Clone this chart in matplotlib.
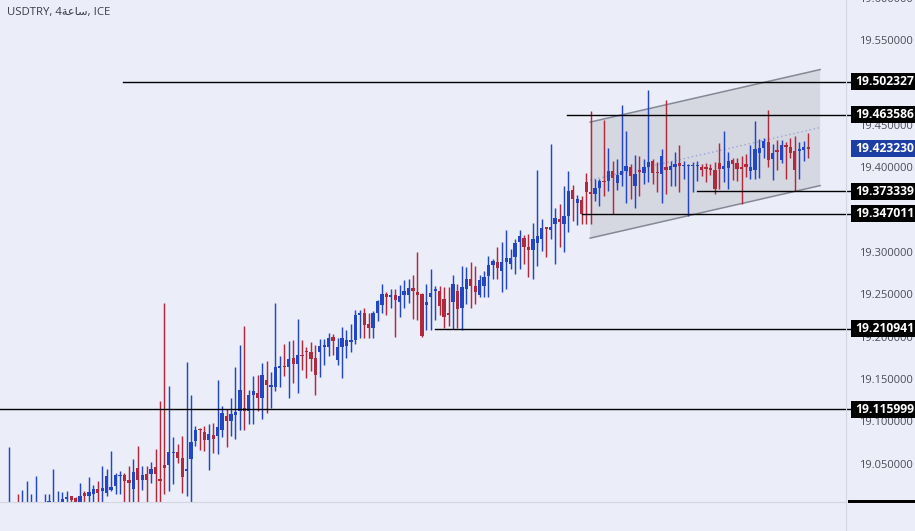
import matplotlib
matplotlib.use("Agg")
import matplotlib.pyplot as plt
import matplotlib.transforms as mtransforms
from matplotlib.patches import Rectangle, Polygon

# USDTRY 4h candles (oldest first)
opens = [
    18.985, 18.990, 19.000, 18.985, 18.990, 18.990, 18.990, 18.995, 18.985, 19.003,
    18.990, 19.000, 19.004, 19.010, 19.013, 19.011, 19.004, 19.017, 19.013, 19.016,
    19.022, 19.020, 19.017, 19.021, 19.025, 19.037, 19.038, 19.033, 19.022, 19.047,
    19.032, 19.039, 19.039, 19.048, 19.034, 19.050, 19.050, 19.064, 19.066, 19.058,
    19.043, 19.057, 19.078, 19.092, 19.089, 19.080, 19.086, 19.084, 19.092, 19.108,
    19.102, 19.109, 19.114, 19.118, 19.114, 19.133, 19.135, 19.129, 19.150, 19.142,
    19.142, 19.165, 19.167, 19.166, 19.177, 19.169, 19.180, 19.185, 19.183, 19.177,
    19.183, 19.190, 19.189, 19.201, 19.174, 19.189, 19.191, 19.195, 19.198, 19.227,
    19.230, 19.217, 19.212, 19.230, 19.239, 19.252, 19.249, 19.251, 19.243, 19.251,
    19.251, 19.259, 19.254, 19.252, 19.239, 19.249, 19.256, 19.256, 19.246, 19.230,
    19.243, 19.256, 19.235, 19.258, 19.270, 19.262, 19.251, 19.261, 19.273, 19.286,
    19.290, 19.279, 19.290, 19.288, 19.296, 19.314, 19.318, 19.307, 19.304, 19.312,
    19.317, 19.330, 19.328, 19.335, 19.340, 19.335, 19.344, 19.375, 19.360, 19.363,
    19.384, 19.372, 19.370, 19.377, 19.385, 19.385, 19.397, 19.383, 19.393, 19.397,
    19.402, 19.380, 19.399, 19.395, 19.402, 19.409, 19.396, 19.394, 19.402, 19.398,
    19.402, 19.407, 19.403, 19.403, 19.403, 19.403, 19.402, 19.402, 19.401, 19.399,
    19.407, 19.400, 19.401, 19.410, 19.407, 19.401, 19.406, 19.397, 19.399, 19.419,
    19.424, 19.431, 19.411, 19.422, 19.410, 19.427, 19.425, 19.421, 19.421, 19.422,
    19.426,
]
highs = [
    19.071, 19.000, 19.016, 19.021, 19.031, 19.016, 19.037, 19.002, 19.016, 19.016,
    19.046, 19.019, 19.018, 19.019, 19.014, 19.012, 19.029, 19.020, 19.036, 19.027,
    19.031, 19.049, 19.046, 19.067, 19.041, 19.043, 19.041, 19.049, 19.057, 19.073,
    19.049, 19.049, 19.054, 19.069, 19.126, 19.242, 19.144, 19.083, 19.075, 19.085,
    19.172, 19.133, 19.096, 19.094, 19.096, 19.099, 19.100, 19.151, 19.120, 19.116,
    19.129, 19.166, 19.192, 19.214, 19.139, 19.155, 19.156, 19.171, 19.173, 19.160,
    19.242, 19.179, 19.193, 19.196, 19.198, 19.223, 19.198, 19.190, 19.195, 19.192,
    19.199, 19.199, 19.206, 19.205, 19.200, 19.213, 19.209, 19.217, 19.233, 19.233,
    19.236, 19.230, 19.232, 19.245, 19.264, 19.254, 19.258, 19.258, 19.263, 19.268,
    19.270, 19.274, 19.302, 19.253, 19.264, 19.281, 19.261, 19.261, 19.260, 19.260,
    19.275, 19.264, 19.285, 19.284, 19.290, 19.285, 19.275, 19.279, 19.297, 19.293,
    19.307, 19.314, 19.328, 19.305, 19.317, 19.328, 19.322, 19.323, 19.336, 19.398,
    19.341, 19.331, 19.429, 19.354, 19.358, 19.380, 19.397, 19.381, 19.369, 19.368,
    19.395, 19.468, 19.388, 19.388, 19.457, 19.424, 19.409, 19.411, 19.475, 19.444,
    19.406, 19.416, 19.415, 19.411, 19.493, 19.411, 19.408, 19.423, 19.481, 19.409,
    19.420, 19.428, 19.409, 19.406, 19.408, 19.409, 19.406, 19.407, 19.406, 19.408,
    19.430, 19.444, 19.420, 19.413, 19.413, 19.415, 19.417, 19.428, 19.456, 19.435,
    19.436, 19.469, 19.429, 19.434, 19.434, 19.432, 19.436, 19.438, 19.432, 19.433,
    19.442,
]
lows = [
    18.970, 18.970, 18.975, 18.975, 18.975, 18.975, 18.975, 18.975, 18.975, 18.990,
    18.975, 18.990, 18.990, 18.990, 18.995, 18.990, 18.990, 18.995, 18.990, 18.995,
    18.995, 18.995, 19.014, 19.020, 19.016, 19.016, 19.000, 19.000, 19.000, 19.000,
    19.021, 19.000, 19.029, 19.000, 19.000, 19.016, 19.019, 19.028, 19.052, 19.017,
    19.013, 19.000, 19.073, 19.068, 19.067, 19.044, 19.064, 19.063, 19.083, 19.072,
    19.085, 19.081, 19.091, 19.091, 19.099, 19.099, 19.114, 19.105, 19.112, 19.118,
    19.138, 19.142, 19.155, 19.129, 19.147, 19.135, 19.162, 19.153, 19.161, 19.133,
    19.154, 19.168, 19.179, 19.180, 19.168, 19.153, 19.176, 19.184, 19.193, 19.200,
    19.200, 19.200, 19.200, 19.220, 19.230, 19.227, 19.236, 19.201, 19.225, 19.236,
    19.242, 19.223, 19.221, 19.201, 19.210, 19.209, 19.221, 19.227, 19.212, 19.214,
    19.211, 19.212, 19.209, 19.240, 19.235, 19.240, 19.249, 19.249, 19.249, 19.270,
    19.270, 19.254, 19.258, 19.281, 19.276, 19.281, 19.288, 19.272, 19.270, 19.285,
    19.303, 19.296, 19.317, 19.287, 19.307, 19.302, 19.325, 19.338, 19.333, 19.335,
    19.335, 19.335, 19.362, 19.356, 19.368, 19.374, 19.346, 19.375, 19.380, 19.360,
    19.364, 19.354, 19.368, 19.382, 19.384, 19.382, 19.373, 19.360, 19.370, 19.380,
    19.379, 19.372, 19.388, 19.344, 19.372, 19.386, 19.391, 19.384, 19.392, 19.370,
    19.376, 19.384, 19.376, 19.387, 19.385, 19.358, 19.390, 19.388, 19.388, 19.389,
    19.412, 19.402, 19.387, 19.399, 19.407, 19.388, 19.412, 19.374, 19.388, 19.409,
    19.413,
]
closes = [
    18.998, 18.980, 18.985, 18.995, 19.000, 19.000, 19.000, 18.985, 18.995, 19.008,
    19.000, 19.005, 19.010, 19.012, 19.009, 19.004, 19.013, 19.013, 19.018, 19.022,
    19.017, 19.023, 19.037, 19.024, 19.038, 19.038, 19.031, 19.029, 19.042, 19.033,
    19.038, 19.032, 19.046, 19.039, 19.031, 19.047, 19.066, 19.065, 19.058, 19.036,
    19.046, 19.077, 19.092, 19.091, 19.080, 19.087, 19.081, 19.095, 19.111, 19.102,
    19.110, 19.113, 19.139, 19.114, 19.133, 19.137, 19.129, 19.157, 19.145, 19.145,
    19.166, 19.167, 19.166, 19.175, 19.169, 19.180, 19.179, 19.183, 19.175, 19.157,
    19.191, 19.191, 19.200, 19.197, 19.190, 19.200, 19.198, 19.198, 19.227, 19.230,
    19.216, 19.212, 19.230, 19.244, 19.252, 19.249, 19.251, 19.245, 19.250, 19.255,
    19.259, 19.255, 19.251, 19.202, 19.243, 19.253, 19.257, 19.238, 19.225, 19.227,
    19.264, 19.234, 19.260, 19.270, 19.262, 19.254, 19.268, 19.272, 19.286, 19.291,
    19.283, 19.290, 19.294, 19.294, 19.312, 19.320, 19.308, 19.304, 19.317, 19.320,
    19.330, 19.329, 19.331, 19.342, 19.337, 19.344, 19.374, 19.364, 19.364, 19.346,
    19.372, 19.370, 19.377, 19.385, 19.384, 19.397, 19.389, 19.393, 19.397, 19.403,
    19.391, 19.394, 19.396, 19.402, 19.408, 19.395, 19.395, 19.415, 19.398, 19.403,
    19.405, 19.403, 19.404, 19.404, 19.404, 19.404, 19.399, 19.400, 19.398, 19.376,
    19.400, 19.403, 19.409, 19.405, 19.400, 19.400, 19.402, 19.402, 19.423, 19.424,
    19.433, 19.410, 19.419, 19.420, 19.428, 19.426, 19.419, 19.399, 19.423, 19.425,
    19.42323,
]

# horizontal levels drawn on the chart, with the bar where each ray starts
levels = [19.502327, 19.463586, 19.373339, 19.347011, 19.210941, 19.115999]
level_start_bar = [25.7, 125.7, 155.0, 129.1, 95.9, -3.0]
last_price = 19.423230

# parallel channel (bar index, price)
channel_upper = [(130.9, 19.455), (182.7, 19.517)]
channel_lower = [(130.9, 19.318), (182.7, 19.380)]

# price scale labels (19.50 and 19.35 sit fully under the level tags)
axis_ticks = [19.05, 19.10, 19.15, 19.20, 19.25, 19.30, 19.40, 19.45, 19.55, 19.60]

title = "USDTRY, 4" + "\ufe94\ufecb\ufe8e\ufeb3" + ", ICE"

BG = "#ebeef9"
UP = "#2346c2"
DOWN = "#b02a3c"
FONT = ["Open Sans", "DejaVu Sans"]

W, H = 915, 531
fig = plt.figure(figsize=(W / 100, H / 100), dpi=100, facecolor=BG)
ax = fig.add_axes([0, 29 / H, 845 / W, 502 / H])
ax.set_facecolor(BG)
ax.set_xlim(-2.03, 188.3)
ax.set_ylim(19.0065, 19.5991)
for s in ax.spines.values():
    s.set_visible(False)
ax.set_xticks([])
ax.set_yticks([])

# channel
(x0, u0), (x1, u1) = channel_upper
(_, l0), (_, l1) = channel_lower
ax.add_patch(Polygon([(x0, u0), (x1, u1), (x1, l1), (x0, l0)], closed=True,
                     facecolor="#d5d7e1", edgecolor="none", zorder=1))
ax.plot([x0, x1], [u0, u1], color="#858995", lw=1.1, zorder=2)
ax.plot([x0, x1], [l0, l1], color="#858995", lw=1.1, zorder=2)
ax.plot([x0, x1], [(u0 + l0) / 2, (u1 + l1) / 2], color="#9aa6d6", lw=1.0,
        ls=(0, (1, 2)), zorder=2)

# candles
xs = list(range(len(opens)))
cols = [UP if c >= o else DOWN for o, c in zip(opens, closes)]
ax.vlines(xs, lows, highs, colors=cols, lw=1.05, zorder=3)
bottoms = [min(o, c) for o, c in zip(opens, closes)]
heights = [max(abs(c - o), 0.0016) for o, c in zip(opens, closes)]
ax.bar(xs, heights, bottom=bottoms, width=0.74, color=cols, linewidth=0, zorder=4)

# horizontal rays
for lv, st in zip(levels, level_start_bar):
    ax.plot([st, 190.4], [lv, lv], color="black", lw=1.0, zorder=5, clip_on=False)

# frame lines
fig.add_artist(plt.Line2D([845.5 / W, 845.5 / W], [0, 1], color="#d3d6e0", lw=0.8))
fig.add_artist(plt.Line2D([0, 845.5 / W], [29 / H, 29 / H], color="#d3d6e0", lw=0.8))

# price axis
tr = mtransforms.blended_transform_factory(fig.transFigure, ax.transData)
for t in axis_ticks:
    ax.text(859 / W, t, f"{t:.6f}", transform=tr, ha="left", va="center",
            fontsize=8.0, color="#4a4d57", family=FONT, zorder=6, clip_on=False)

box_h = 17 / 847
for lv in levels + [last_price]:
    fc = "#1d3fa5" if lv == last_price else "black"
    ax.add_patch(Rectangle((851 / W, lv - box_h / 2), 64 / W, box_h, transform=tr,
                           facecolor=fc, edgecolor="none", zorder=7, clip_on=False))
    ax.text(855 / W, lv, f"{lv:.6f}", transform=tr, ha="left", va="center",
            fontsize=8.7, fontweight="bold", color="white", family=FONT,
            zorder=8, clip_on=False)

ax.add_patch(Rectangle((848 / W, 28.5 / H), 67 / W, 3 / H, transform=fig.transFigure,
                       facecolor="black", edgecolor="none", zorder=7, clip_on=False))

fig.text(7 / W, 1 - 13 / H, title, ha="left", va="center", fontsize=8.2,
         color="#3a3d47", family=FONT)

fig.savefig("out.png", dpi=100, facecolor=BG)
